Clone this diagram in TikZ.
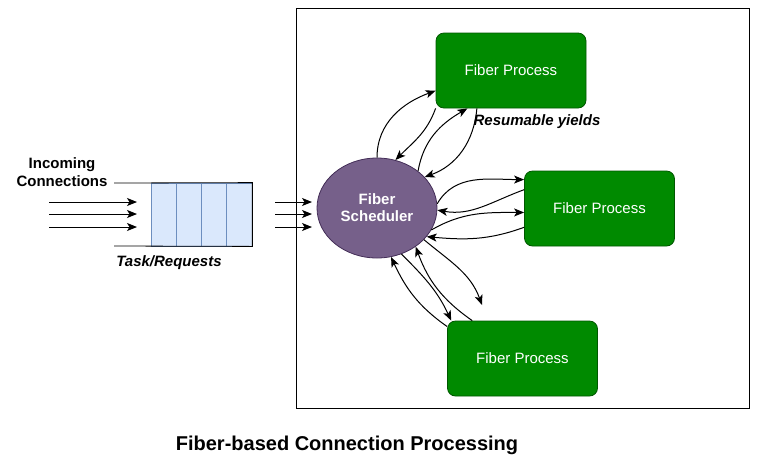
\documentclass[tikz,border=0pt]{standalone}
\usepackage{fontspec}
\setmainfont{Liberation Sans}
\usetikzlibrary{arrows.meta,shapes.geometric}
\definecolor{procfill}{HTML}{008A00}
\definecolor{procline}{HTML}{005700}
\definecolor{schedfill}{HTML}{76608A}
\definecolor{schedline}{HTML}{432D57}
\definecolor{cellfill}{HTML}{DAE8FC}
\definecolor{cellline}{HTML}{6C8EBF}
\begin{document}
\begin{tikzpicture}[x=1pt,y=1pt,
	every node/.style={font=\fontsize{15}{18}\selectfont},
	proc/.style={draw=procline,fill=procfill,rounded corners=8pt,minimum width=150pt,minimum height=75pt,text=white,line width=0.8pt},
	cell/.style={draw=cellline,fill=cellfill,minimum width=25.25pt,minimum height=63pt,inner sep=0pt,line width=0.8pt},
	flow/.style={-{Stealth[length=10pt,width=8pt,inset=2.5pt]},line width=1pt}]
	\useasboundingbox (0,0) rectangle (765,-467);
%	\coordinate (    ) at (x     , -y    );
	\coordinate (cfrm) at (522.5 , -208  );
	\coordinate (csch) at (377   , -208  );
	\coordinate (ctop) at (511   , -70.5 );
	\coordinate (crgt) at (599.5 , -208.5);
	\coordinate (cbot) at (522.5 , -358.5);
	\coordinate (qtop) at (114   , -183  );
	\coordinate (qbot) at (114   , -246  );
	\coordinate (bgap) at (482   , -305  );

	\node[draw,line width=0.8pt,minimum width=453pt,minimum height=400pt] (frame) at (cfrm) {};
	\node[ellipse,draw=schedline,fill=schedfill,line width=0.8pt,minimum width=120pt,minimum height=100pt,
		text=white,align=center,font=\fontsize{15}{17}\selectfont\bfseries] (sched) at (csch) {Fiber\\Scheduler};
	\node[proc] (top) at (ctop) {Fiber Process};
	\node[proc] (rgt) at (crgt) {Fiber Process};
	\node[proc] (bot) at (cbot) {Fiber Process};

	% queue
	\foreach \i in {0,...,3}
		\node[cell] (q\i) at (163.6+25.25*\i, -214.5) {};
	\draw[line width=0.8pt] (qtop) -- (q3.north east) -- (q3.south east) -- (qbot);

	% incoming
	\foreach \y in {202,214,227} {
		\coordinate (in\y) at (49,-\y);
		\coordinate (qi\y) at (137,-\y);
		\coordinate (qo\y) at (275,-\y);
		\coordinate (si\y) at (312,-\y);
		\draw[flow] (in\y) -- (qi\y);
		\draw[flow] (qo\y) -- (si\y);
	}

	% scheduler <-> top
	\draw[flow] (sched.90) to[out=90,in=200] (top.195);
	\draw[flow] (top.south west) to[out=250,in=45] (sched.69);
	\draw[flow] (sched.42) to[out=80,in=210] (top.221);
	\draw[flow] (top.228) to[out=-95,in=20] (sched.33);

	% scheduler <-> right
	\draw[flow] (sched.4) to[out=60,in=180] (rgt.159);
	\draw[flow] (rgt.166) to[out=200,in=-10] (sched.-2);
	\draw[flow] (sched.-22) to[out=30,in=180] (rgt.183);
	\draw[flow] (rgt.194) to[out=200,in=-5] (sched.-30);

	% scheduler <-> bottom
	\draw[flow] (bot.157) to[out=145,in=-65] (sched.-74);
	\draw[flow] (sched.-62) to[out=-45,in=115] (bot.152);
	\draw[flow] (bot.143) to[out=145,in=-70] (sched.-45);
	\draw[flow] (sched.-34) to[out=-40,in=110] (bgap);

	\node[align=center,font=\fontsize{15}{18}\selectfont\bfseries] (inc) at (62,-172) {Incoming\\Connections};
	\node[font=\fontsize{15}{18}\selectfont\bfseries\itshape] (task) at (169,-263) {Task/Requests};
	\node[font=\fontsize{15}{18}\selectfont\bfseries\itshape] (yield) at (537,-122) {Resumable yields};
	\node[font=\fontsize{20}{24}\selectfont\bfseries] (title) at (347,-445) {Fiber-based Connection Processing};
\end{tikzpicture}
\end{document}
